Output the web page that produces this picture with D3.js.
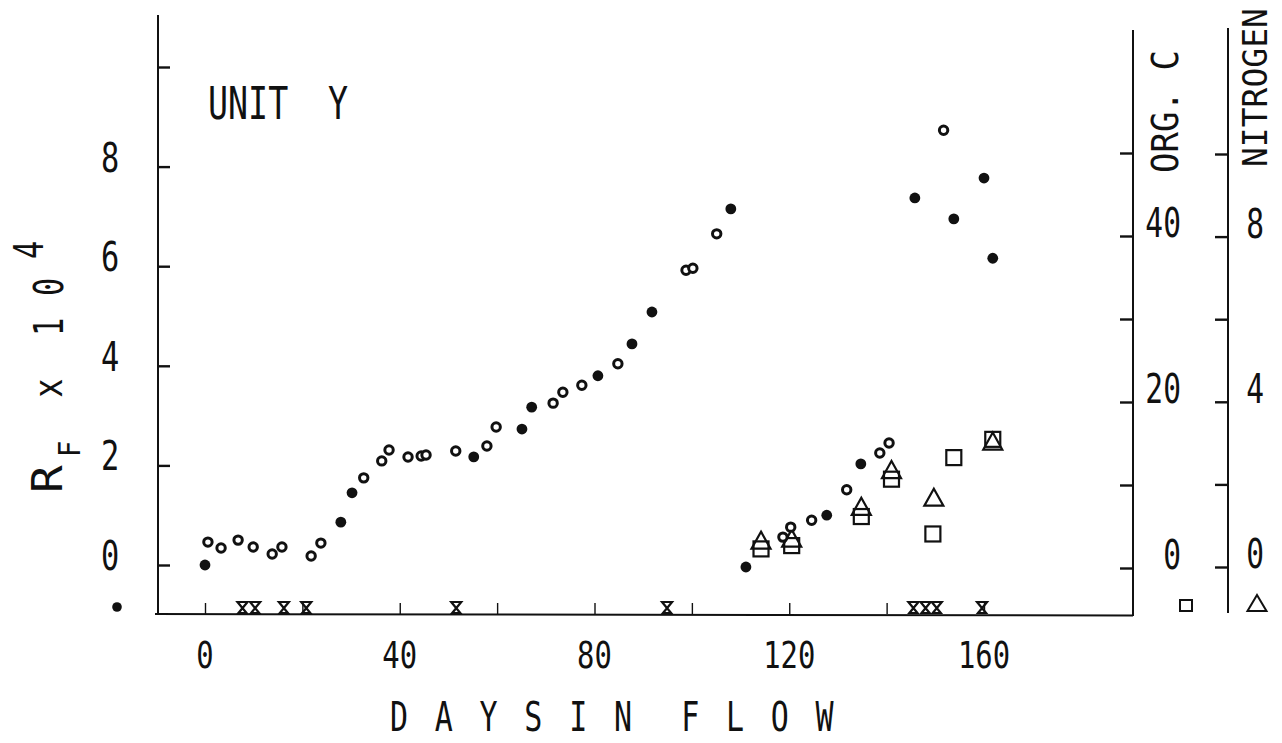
<!DOCTYPE html>
<html>
<head>
<meta charset="utf-8">
<script src="https://cdn.jsdelivr.net/npm/d3@7"></script>
<style>
body { margin: 0; background: #fff; }
svg { display: block; }
text { font-family: "DejaVu Sans Mono", monospace; fill: #111; }
</style>
</head>
<body>
<svg id="chart" width="1282" height="743"></svg>
<script>
// R_F x 10^4 -- filled circles
var rfFilledDays   = [0, 27.9, 30.2, 55.2, 65.1, 67.1, 80.7, 87.7, 91.8, 108, 111.1, 127.7, 134.7, 145.8, 153.8, 160, 161.8];
var rfFilledValues = [0, 0.86, 1.45, 2.17, 2.73, 3.17, 3.80, 4.44, 5.08, 7.15, -0.04, 1.0, 2.03, 7.37, 6.95, 7.77, 6.16];
// R_F x 10^4 -- open circles
var rfOpenDays   = [0.6, 3.3, 6.8, 9.9, 13.8, 15.8, 21.8, 23.8, 32.6, 36.3, 37.8, 41.7, 44.4, 45.4, 51.5, 57.9, 59.8,
                    71.5, 73.5, 77.4, 84.8, 98.8, 100.2, 105.1, 118.7, 120.3, 124.6, 131.8, 138.6, 140.5, 151.7];
var rfOpenValues = [0.46, 0.34, 0.50, 0.36, 0.22, 0.36, 0.18, 0.44, 1.75, 2.09, 2.31, 2.17, 2.19, 2.21, 2.29, 2.39, 2.77,
                    3.25, 3.47, 3.61, 4.04, 5.92, 5.96, 6.65, 0.56, 0.76, 0.90, 1.51, 2.25, 2.45, 8.73];
// ORG. C (squares) and NITROGEN (triangles)
var orgDays   = [114.2, 120.5, 134.8, 141, 149.5, 153.8, 161.8];
var orgValues = [2.3, 2.7, 6.2, 10.7, 4.1, 13.3, 15.5];
var nDays   = [114.2, 120.5, 134.8, 141, 149.7, 161.8];
var nValues = [0.65, 0.7, 1.47, 2.36, 1.69, 3.05];
// marks on the time axis
var eventDays = [7.7, 10.3, 16.2, 20.8, 51.6, 94.9, 145.5, 148, 150.3, 159.6];

var xTicks = [0, 20, 40, 60, 80, 100, 120, 140, 160];
var xLabels = [0, 40, 80, 120, 160];
var rfTicks = [0, 2, 4, 6, 8, 10];
var rfLabels = [0, 2, 4, 6, 8];
var orgTicks = [0, 10, 20, 30, 40, 50];
var orgLabels = [0, 20, 40];
var nTicks = [0, 2, 4, 6, 8, 10];
var nLabels = [0, 4, 8];

var svg = d3.select("#chart");

var x = d3.scaleLinear().domain([0, 160]).range([205, 984]);
var yRf = d3.scaleLinear().domain([0, 10]).range([565, 67]);
var yOrg = d3.scaleLinear().domain([0, 50]).range([568, 153]);
var yN = d3.scaleLinear().domain([0, 10]).range([567, 154]);

var baseY = 614, leftX = 158, orgX = 1133, nX = 1228;

var label = function(str, tx, ty, size, sx, anchor, rot) {
    return svg.append("text")
        .attr("transform", "translate(" + tx + "," + ty + ") rotate(" + (rot || 0) + ") scale(" + sx + ",1)")
        .attr("text-anchor", anchor || "middle")
        .style("font-size", size + "px")
        .text(str);
};

// axis lines
var lines = svg.append("g").attr("stroke", "#111").attr("stroke-width", 2);
lines.append("line").attr("x1", 155).attr("x2", orgX).attr("y1", baseY).attr("y2", baseY + 1.5);
lines.append("line").attr("x1", leftX).attr("x2", leftX).attr("y1", 15).attr("y2", baseY);
lines.append("line").attr("x1", orgX).attr("x2", orgX).attr("y1", 30).attr("y2", baseY + 2);
lines.append("line").attr("x1", nX).attr("x2", nX).attr("y1", 28).attr("y2", 613);

// ticks via d3 axes
var styleAxis = function(g, w) {
    g.select(".domain").remove();
    g.selectAll(".tick line").attr("stroke", "#111").attr("stroke-width", w);
};
svg.append("g").attr("transform", "translate(0," + baseY + ")")
    .call(d3.axisTop(x).tickValues(xTicks).tickSize(11).tickFormat(""))
    .call(styleAxis, 1.4);
svg.append("g").attr("transform", "translate(" + leftX + ",0)")
    .call(d3.axisRight(yRf).tickValues(rfTicks).tickSize(12).tickFormat(""))
    .call(styleAxis, 2.4);
svg.append("g").attr("transform", "translate(" + orgX + ",0)")
    .call(d3.axisLeft(yOrg).tickValues(orgTicks).tickSize(13).tickFormat(""))
    .call(styleAxis, 2.4);
svg.append("g").attr("transform", "translate(" + nX + ",0)")
    .call(d3.axisLeft(yN).tickValues(nTicks).tickSize(13).tickFormat(""))
    .call(styleAxis, 2.4);

// tick labels
rfLabels.forEach(function(v) { label(v, 110, yRf(v) + 5, 41, 0.74); });
orgLabels.forEach(function(v) { label(v, 1181, yOrg(v) + 1, 40, 0.74, "end"); });
nLabels.forEach(function(v) { label(v, 1264, yN(v) + 1, 40, 0.74, "end"); });
xLabels.forEach(function(v) { label(v, x(v), 668, 38, 0.76); });

// titles
label("UNIT", 208, 119, 45, 0.74, "start");
label("Y", 328, 119, 45, 0.74, "start");

var xTitle = "D A Y S I N  F L O W";
xTitle.split("").forEach(function(c, i) {
    if (c !== " ") label(c, 399 + i * 22.4, 731, 40, 0.75);
});

label("R", 62, 493, 42, 1.1, "start", -90);
label("F", 80, 457, 30, 0.9, "start", -90);
label("x", 62, 388, 40, 0.8, "middle", -90);
label("1", 63, 327, 41, 0.74, "middle", -90);
label("0", 63, 287, 41, 0.74, "middle", -90);
label("4", 43, 250, 41, 0.74, "middle", -90);

label("ORG. C", 1178, 173, 37, 0.92, "start", -90);
label("NITROGEN", 1267, 167, 33, 1, "start", -90);

// legend keys
svg.append("circle").attr("cx", 117).attr("cy", 607).attr("r", 4.8).attr("fill", "#111");
svg.append("rect").attr("x", 1180).attr("y", 600).attr("width", 12).attr("height", 11)
    .attr("fill", "none").attr("stroke", "#111").attr("stroke-width", 2);

var tri = function(w, h) {
    return "M0," + (-h / 2) + "L" + (w / 2) + "," + (h / 2) + "L" + (-w / 2) + "," + (h / 2) + "Z";
};
svg.append("path").attr("d", tri(19, 16)).attr("transform", "translate(1257,603)")
    .attr("fill", "none").attr("stroke", "#111").attr("stroke-width", 2);

// event marks on the axis
svg.append("g").selectAll("path").data(eventDays).join("path")
    .attr("transform", function(d) { return "translate(" + x(d) + "," + (baseY - 1) + ")"; })
    .attr("d", "M-5,-11L5,-11L-4,0L4,0Z")
    .attr("fill", "none").attr("stroke", "#111").attr("stroke-width", 2.2);

// ORG. C squares
svg.append("g").selectAll("rect").data(orgDays).join("rect")
    .attr("x", function(d) { return x(d) - 7.5; })
    .attr("y", function(d, i) { return yOrg(orgValues[i]) - 7.5; })
    .attr("width", 15).attr("height", 15)
    .attr("fill", "none").attr("stroke", "#111").attr("stroke-width", 2.2);

// NITROGEN triangles
svg.append("g").selectAll("path").data(nDays).join("path")
    .attr("transform", function(d, i) { return "translate(" + x(d) + "," + yN(nValues[i]) + ")"; })
    .attr("d", tri(19, 17))
    .attr("fill", "none").attr("stroke", "#111").attr("stroke-width", 2.2);

// R_F circles
svg.append("g").selectAll("circle").data(rfOpenDays).join("circle")
    .attr("cx", function(d) { return x(d); })
    .attr("cy", function(d, i) { return yRf(rfOpenValues[i]); })
    .attr("r", 4.2)
    .attr("fill", "#fff").attr("stroke", "#111").attr("stroke-width", 3);

svg.append("g").selectAll("circle").data(rfFilledDays).join("circle")
    .attr("cx", function(d) { return x(d); })
    .attr("cy", function(d, i) { return yRf(rfFilledValues[i]); })
    .attr("r", 5.4)
    .attr("fill", "#111");
</script>
</body>
</html>
